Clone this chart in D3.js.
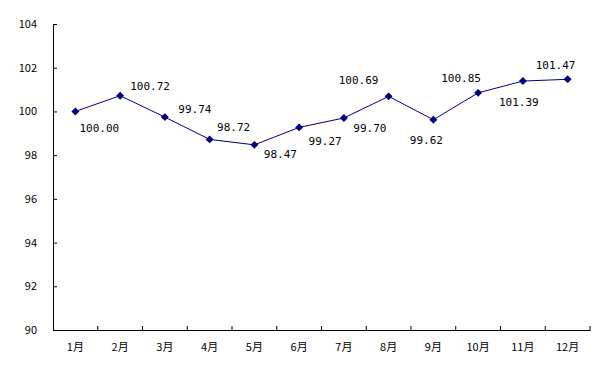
<!DOCTYPE html>
<html>
<head>
<meta charset="utf-8">
<script src="https://cdn.jsdelivr.net/npm/d3@7"></script>
<style>
  body { margin: 0; background: #fff; }
</style>
</head>
<body>
<svg width="613" height="371"></svg>
<script>
const months = ['1月', '2月', '3月', '4月', '5月', '6月', '7月', '8月', '9月', '10月', '11月', '12月']
const values = [100.00, 100.72, 99.74, 98.72, 98.47, 99.27, 99.70, 100.69, 99.62, 100.85, 101.39, 101.47]
const yTicks = [90, 92, 94, 96, 98, 100, 102, 104]

// where each value label sits relative to its point
const labelDx = [24, 30, 30, 24, 26, 26, 26, -30, -7, -17, -4, -12]
const labelDy = [18, -9, -7, -11, 10, 15, 11, -15, 21, -14, 22, -13]

const svg = d3.select('svg')
const margin = { left: 53, right: 23, top: 24, bottom: 41 }
const width = 613
const height = 371
const cjk = '"Noto Sans CJK SC", sans-serif'
const mono = '"DejaVu Sans Mono", monospace'

const x = d3.scaleBand()
  .domain(months)
  .range([margin.left, width - margin.right])

const y = d3.scaleLinear()
  .domain([90, 104])
  .range([height - margin.bottom, margin.top])

// y axis
const yAxis = svg.append('g')
  .attr('transform', `translate(${margin.left},0)`)
  .call(d3.axisRight(y).tickValues(yTicks).tickSize(4).tickFormat(d3.format('d')))
yAxis.select('.domain').attr('stroke', '#000')
yAxis.selectAll('.tick line').attr('stroke', '#000')
yAxis.selectAll('.tick text')
  .attr('x', -16)
  .attr('text-anchor', 'end')
  .style('font-family', cjk)
  .style('font-size', '11px')
  .attr('fill', '#000')

// x axis
const xAxis = svg.append('g')
  .attr('transform', `translate(0,${height - margin.bottom})`)
  .call(d3.axisTop(x).tickSize(0).tickFormat(''))
xAxis.select('.domain').attr('stroke', '#000')
xAxis.selectAll('.tick').remove()

xAxis.selectAll('.sep')
  .data(months)
  .join('line')
  .attr('class', 'sep')
  .attr('x1', d => x(d) + x.bandwidth())
  .attr('x2', d => x(d) + x.bandwidth())
  .attr('y1', 0)
  .attr('y2', -4)
  .attr('stroke', '#000')

svg.append('g')
  .selectAll('text')
  .data(months)
  .join('text')
  .attr('x', d => x(d) + x.bandwidth() / 2)
  .attr('y', height - margin.bottom + 21)
  .attr('text-anchor', 'middle')
  .style('font-family', cjk)
  .style('font-size', '11px')
  .text(d => d)

const cx = (d, i) => x(months[i]) + x.bandwidth() / 2

const line = d3.line()
  .x(cx)
  .y(d => y(d))

svg.append('path')
  .datum(values)
  .attr('fill', 'none')
  .attr('stroke', '#000080')
  .attr('stroke-width', 1)
  .attr('d', line)

svg.append('g')
  .selectAll('path')
  .data(values)
  .join('path')
  .attr('d', d3.symbol().type(d3.symbolDiamond2).size(40))
  .attr('transform', (d, i) => `translate(${cx(d, i)},${y(d)})`)
  .attr('fill', '#000080')

svg.append('g')
  .selectAll('text')
  .data(values)
  .join('text')
  .attr('x', (d, i) => cx(d, i) + labelDx[i])
  .attr('y', (d, i) => y(d) + labelDy[i])
  .attr('text-anchor', 'middle')
  .attr('dominant-baseline', 'middle')
  .style('font-family', mono)
  .style('font-size', '11px')
  .text(d => d.toFixed(2))
</script>
</body>
</html>
